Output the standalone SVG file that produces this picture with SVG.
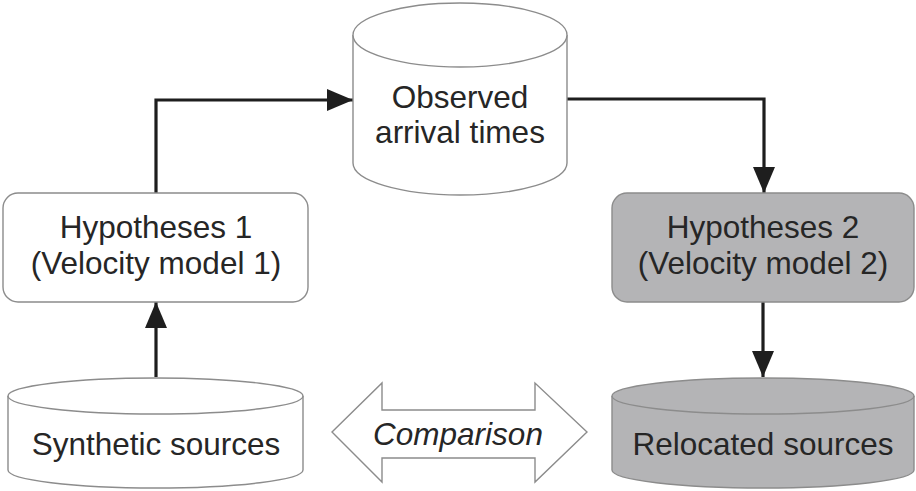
<svg xmlns="http://www.w3.org/2000/svg" width="916" height="491" viewBox="0 0 916 491">
<defs>
<marker id="ah" markerWidth="26" markerHeight="22" refX="26" refY="11" orient="auto" markerUnits="userSpaceOnUse">
<path d="M0,0 L26,11 L0,22 Z" fill="#1e1e1e"/>
</marker>
<style>
.shape{stroke:#8c8c8c;stroke-width:1.4}
.white{fill:#ffffff}
.gray{fill:#b4b4b6}
.lbl{font-family:"Liberation Sans",Arial,sans-serif;font-size:31.5px;fill:#262626;text-anchor:middle}
.conn{fill:none;stroke:#1e1e1e;stroke-width:3.2}
</style>
</defs>
<rect width="916" height="491" fill="#ffffff"/>
<g id="connectors">
<path class="conn" d="M156,193 V100 H353" marker-end="url(#ah)"/>
<path class="conn" d="M567,99 H764 V193" marker-end="url(#ah)"/>
<path class="conn" d="M156,377 V302" marker-end="url(#ah)"/>
<path class="conn" d="M763,302 V377" marker-end="url(#ah)"/>
</g>
<g id="observed">
<path class="shape white" d="M353,35 V163 A107,32 0 0 0 567,163 V35"/>
<ellipse class="shape white" cx="460" cy="35" rx="107" ry="32"/>
<text class="lbl" x="460" y="108">Observed</text>
<text class="lbl" x="460" y="143">arrival times</text>
</g>
<g id="hyp1">
<rect class="shape white" x="3" y="193" width="305" height="109" rx="15"/>
<text class="lbl" x="156" y="238">Hypotheses 1</text>
<text class="lbl" x="156" y="274">(Velocity model 1)</text>
</g>
<g id="hyp2">
<rect class="shape gray" x="612" y="193" width="302" height="109" rx="15"/>
<text class="lbl" x="763" y="238">Hypotheses 2</text>
<text class="lbl" x="763" y="274">(Velocity model 2)</text>
</g>
<g id="synthetic">
<path class="shape white" d="M8,396 V470 A147.5,18 0 0 0 303,470 V396"/>
<ellipse class="shape white" cx="155.5" cy="396" rx="147.5" ry="18"/>
<text class="lbl" x="156" y="455">Synthetic sources</text>
</g>
<g id="relocated">
<path class="shape gray" d="M612,396 V470 A151,18 0 0 0 914,470 V396"/>
<ellipse class="shape gray" cx="763" cy="396" rx="151" ry="18"/>
<text class="lbl" x="763" y="455">Relocated sources</text>
</g>
<g id="comparison">
<path class="shape white" d="M332,432 L382,383 V410 H535 V383 L587,432 L535,482 V458 H382 V482 Z"/>
<text class="lbl" x="458" y="445" font-style="italic" font-size="32">Comparison</text>
</g>
</svg>
